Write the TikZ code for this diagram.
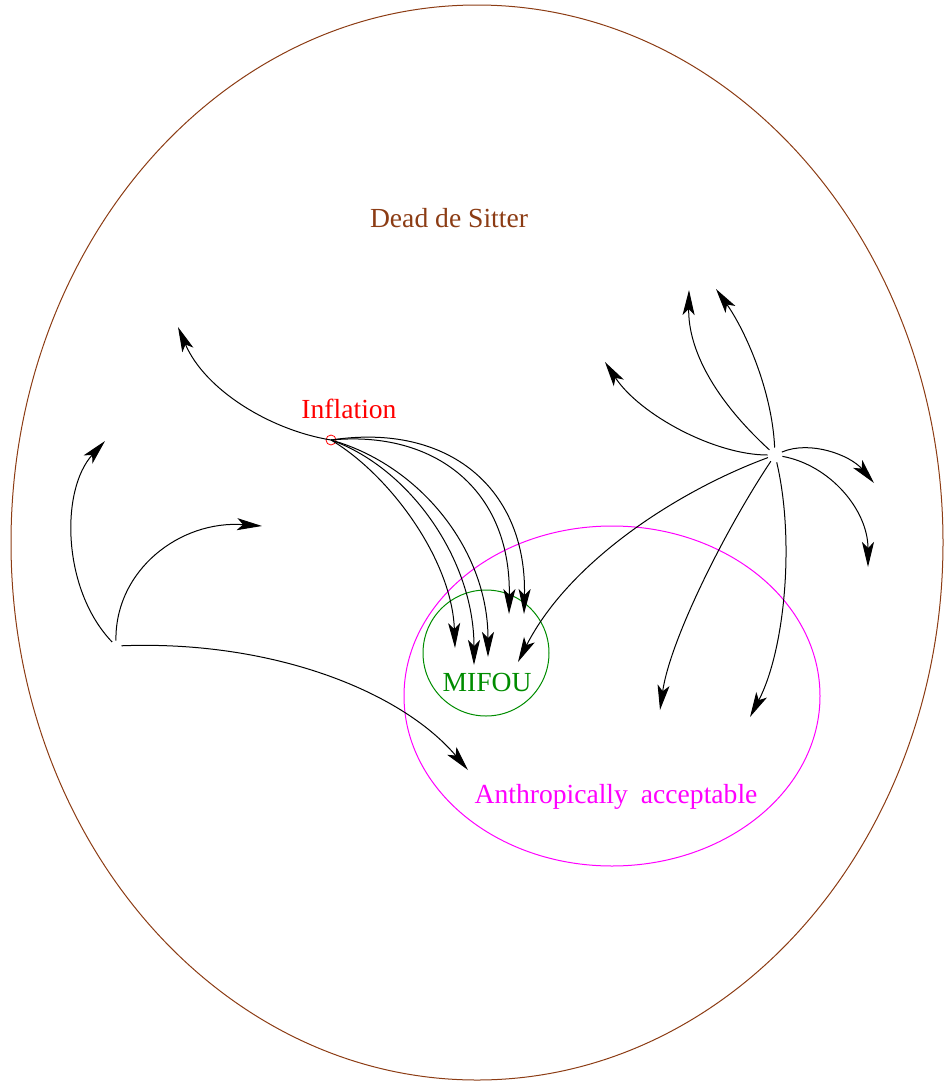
\documentclass[tikz,border=0pt]{standalone}
\usepackage{fontspec}
\setmainfont{Liberation Serif}
\usetikzlibrary{arrows.meta}
\definecolor{dsbrown}{RGB}{140,60,20}
\definecolor{mifgreen}{RGB}{0,140,0}
\definecolor{anthmag}{RGB}{255,0,255}
\begin{document}
\begin{tikzpicture}[x=1pt,y=-1pt,line width=1pt,
  flow/.style={-{Stealth[length=25pt,width=12pt,inset=6pt]},line width=1pt},
  lbl/.style={font=\fontsize{27.6}{31}\selectfont,inner sep=0pt},
  hub/.style={circle,minimum size=14pt,inner sep=0pt}]
\useasboundingbox (0,0) rectangle (943,1082);
% regions
\draw[dsbrown] (477,542.5) ellipse [x radius=466,y radius=537.5];
\draw[anthmag] (612,696) ellipse [x radius=208,y radius=170];
\draw[mifgreen] (486,653) circle [radius=63];
% labels
\node[lbl,text=dsbrown] (ds) at (449,218) {Dead de Sitter};
\node[lbl,text=red] (inflbl) at (349,409) {Inflation};
\node[lbl,text=mifgreen] (mif) at (487,682) {MIFOU};
\node[lbl,text=anthmag] (anth) at (616,797) {Anthropically\hspace{13pt}acceptable};
% hubs
\node[circle,draw=red,minimum size=10pt,inner sep=0pt,line width=0.8pt] (inf) at (331,440) {};
\node[hub] (S) at (775,455) {};
\node[hub,minimum size=10pt] (L) at (116,646) {};
% tips
\coordinate (i0) at (178,327);
\coordinate (i1) at (455,648);
\coordinate (i2) at (474,665);
\coordinate (i3) at (488,657);
\coordinate (i4) at (509,614);
\coordinate (i5) at (524,614);
\coordinate (s1) at (605,362);
\coordinate (s2) at (689,290);
\coordinate (s3) at (716,289);
\coordinate (s4) at (874,483);
\coordinate (s5) at (868,567);
\coordinate (s6) at (518,662);
\coordinate (s7) at (660,710);
\coordinate (s8) at (750,717);
\coordinate (l1) at (105,441);
\coordinate (l2) at (262,526);
\coordinate (l3) at (468,770);
% inflation flows
\draw[flow] (inf.center) .. controls (270,430) and (205,390) .. (i0);
\draw[flow] (inf.center) .. controls (390,475) and (452,560) .. (i1);
\draw[flow] (inf.center) .. controls (410,468) and (474,560) .. (i2);
\draw[flow] (inf.center) .. controls (420,465) and (488,550) .. (i3);
\draw[flow] (inf.center) .. controls (435,430) and (511,490) .. (i4);
\draw[flow] (inf.center) .. controls (450,422) and (527,490) .. (i5);
% star flows
\draw[flow] (S) .. controls (715,455) and (640,415) .. (s1);
\draw[flow] (S) .. controls (715,400) and (688,350) .. (s2);
\draw[flow] (S) .. controls (772,390) and (745,330) .. (s3);
\draw[flow] (S) .. controls (810,440) and (850,455) .. (s4);
\draw[flow] (S) .. controls (830,465) and (868,510) .. (s5);
\draw[flow] (S) .. controls (680,490) and (570,560) .. (s6);
\draw[flow] (S) .. controls (725,530) and (670,640) .. (s7);
\draw[flow] (S) .. controls (795,540) and (785,650) .. (s8);
% left flows
\draw[flow] (L) .. controls (62,590) and (60,490) .. (l1);
\draw[flow] (L) .. controls (115,570) and (180,520) .. (l2);
\draw[flow] (L) .. controls (270,640) and (400,690) .. (l3);
\end{tikzpicture}
\end{document}
